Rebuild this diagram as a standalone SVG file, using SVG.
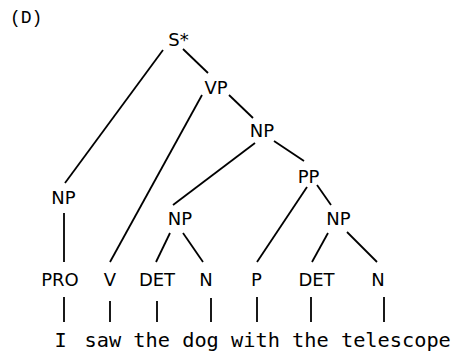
<svg xmlns="http://www.w3.org/2000/svg" width="457" height="353" viewBox="0 0 457 353">
<style>
.lbl{font-family:"DejaVu Sans","Liberation Sans",sans-serif;font-size:18px;fill:#000;text-anchor:middle}
.mono{font-family:"DejaVu Sans Mono","Liberation Mono",monospace;font-size:20.3px;fill:#000}
.edges line{stroke:#000;stroke-width:1.8;stroke-linecap:butt}
</style>
<rect width="457" height="353" fill="#fff"/>
<text x="10" y="23" style="font-family:'Liberation Mono',monospace;font-size:18px">(D)</text>
<g class="edges" id="connectors">
<line x1="163" y1="50" x2="65" y2="183"/>
<line x1="183" y1="49" x2="208" y2="73"/>
<line x1="202" y1="95" x2="110" y2="262"/>
<line x1="229" y1="95" x2="253" y2="118"/>
<line x1="255" y1="143" x2="173" y2="205"/>
<line x1="274" y1="141" x2="304" y2="161"/>
<line x1="64" y1="213" x2="64" y2="262"/>
<line x1="170" y1="233" x2="156" y2="262"/>
<line x1="183" y1="233" x2="203" y2="262"/>
<line x1="307" y1="187" x2="257" y2="262"/>
<line x1="317" y1="185" x2="331" y2="205"/>
<line x1="328" y1="233" x2="312" y2="262"/>
<line x1="347" y1="232" x2="377" y2="262"/>
<line x1="64" y1="297" x2="64" y2="322"/>
<line x1="110" y1="301" x2="110" y2="322"/>
<line x1="157" y1="301" x2="157" y2="322"/>
<line x1="211" y1="298" x2="211" y2="322"/>
<line x1="257" y1="297" x2="257" y2="322"/>
<line x1="311" y1="297" x2="311" y2="322"/>
<line x1="384" y1="297" x2="384" y2="322"/>
</g>
<g id="S"><text class="lbl" x="178.5" y="46">S*</text></g>
<g id="VP"><text class="lbl" x="216" y="94">VP</text></g>
<g id="NP2"><text class="lbl" x="262" y="137">NP</text></g>
<g id="PP"><text class="lbl" x="308.5" y="183">PP</text></g>
<g id="NP1"><text class="lbl" x="63.5" y="204">NP</text></g>
<g id="NP3"><text class="lbl" x="180" y="225">NP</text></g>
<g id="NP4"><text class="lbl" x="338.5" y="225">NP</text></g>
<g id="PRO"><text class="lbl" x="60" y="286">PRO</text></g>
<g id="V"><text class="lbl" x="110" y="286">V</text></g>
<g id="DET1"><text class="lbl" x="157" y="286">DET</text></g>
<g id="N1"><text class="lbl" x="206" y="286">N</text></g>
<g id="P"><text class="lbl" x="256.5" y="286">P</text></g>
<g id="DET2"><text class="lbl" x="316.5" y="286">DET</text></g>
<g id="N2"><text class="lbl" x="378" y="286">N</text></g>
<g id="words"><text class="mono" y="347"><tspan x="54.5">I</tspan><tspan x="84.5">saw the dog with the telescope</tspan></text></g>
</svg>
